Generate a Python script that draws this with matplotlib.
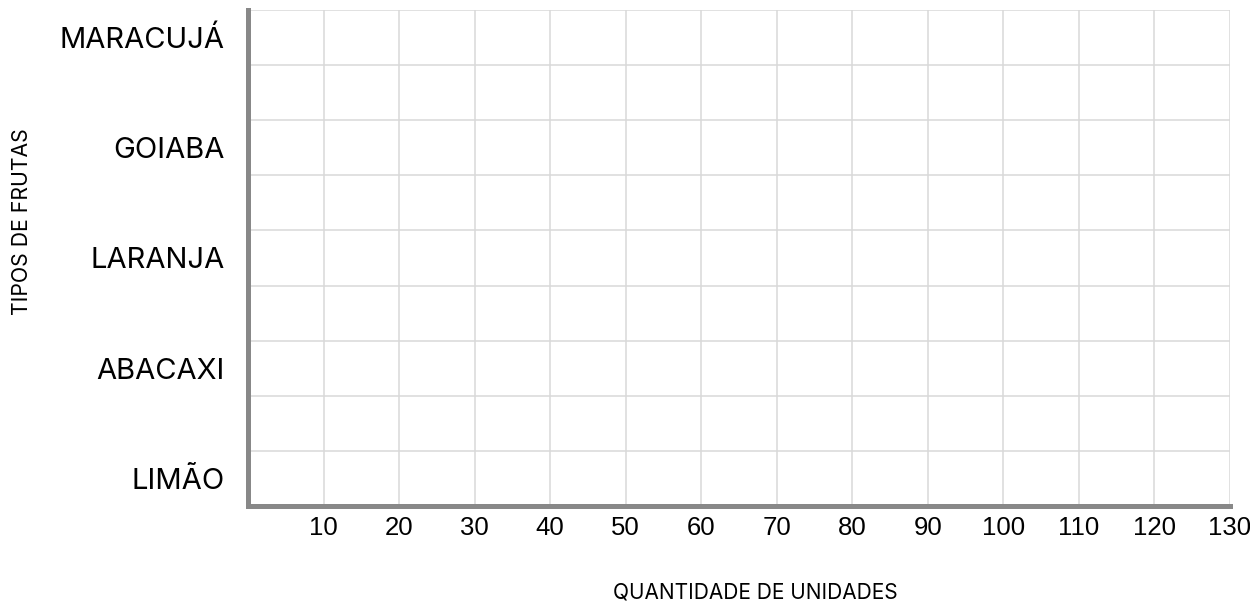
import matplotlib.pyplot as plt
from matplotlib.ticker import FixedLocator

# data
frutas = ["LIMÃO", "ABACAXI", "LARANJA", "GOIABA", "MARACUJÁ"]
quantidades = []  # nenhuma barra desenhada no gráfico original
x_ticks = [10, 20, 30, 40, 50, 60, 70, 80, 90, 100, 110, 120, 130]
x_max = 130

fig = plt.figure(figsize=(12.5, 6.02), dpi=100)
ax = fig.add_axes([0.1984, 0.1595, 0.7856, 0.824])

# each category sits in a band of two grid rows
y_pos = [2 * i + 0.5 for i in range(len(frutas))]
if quantidades:
    ax.barh(y_pos, quantidades, height=0.8, color="#4472c4", zorder=3)

ax.set_xlim(0, x_max)
ax.set_ylim(0, 2 * len(frutas) - 1)

ax.set_xticks(x_ticks)
ax.set_xticklabels([str(t) for t in x_ticks], fontsize=18.5, family="Liberation Sans")

ax.set_yticks(y_pos)
ax.set_yticklabels(frutas, fontsize=21, family="Inter")
ax.yaxis.set_minor_locator(FixedLocator(list(range(0, 2 * len(frutas)))))

ax.tick_params(axis="both", which="both", length=0)
ax.tick_params(axis="x", pad=7)
ax.tick_params(axis="y", pad=17)

# vertical lines on the major x ticks, horizontal lines on the minor y ticks
ax.xaxis.grid(True, which="major", color="#d9d9d9", linewidth=1.1, zorder=0)
ax.yaxis.grid(True, which="minor", color="#d9d9d9", linewidth=1.1, zorder=0)
ax.yaxis.grid(False, which="major")
ax.set_axisbelow(True)

for side in ["top", "right"]:
    ax.spines[side].set_visible(False)
for side in ["left", "bottom"]:
    ax.spines[side].set_color("#888888")
    ax.spines[side].set_linewidth(3.6)
    ax.spines[side].set_zorder(4)

fig.text(0.0176, 1 - 222 / 602, "TIPOS DE FRUTAS", rotation=90, ha="center", va="center",
         fontsize=15.3, family="Inter")
fig.text(755 / 1250, 1 - 592 / 602, "QUANTIDADE DE UNIDADES", ha="center", va="center",
         fontsize=15, family="Inter")

fig.savefig("out.png", dpi=100)
